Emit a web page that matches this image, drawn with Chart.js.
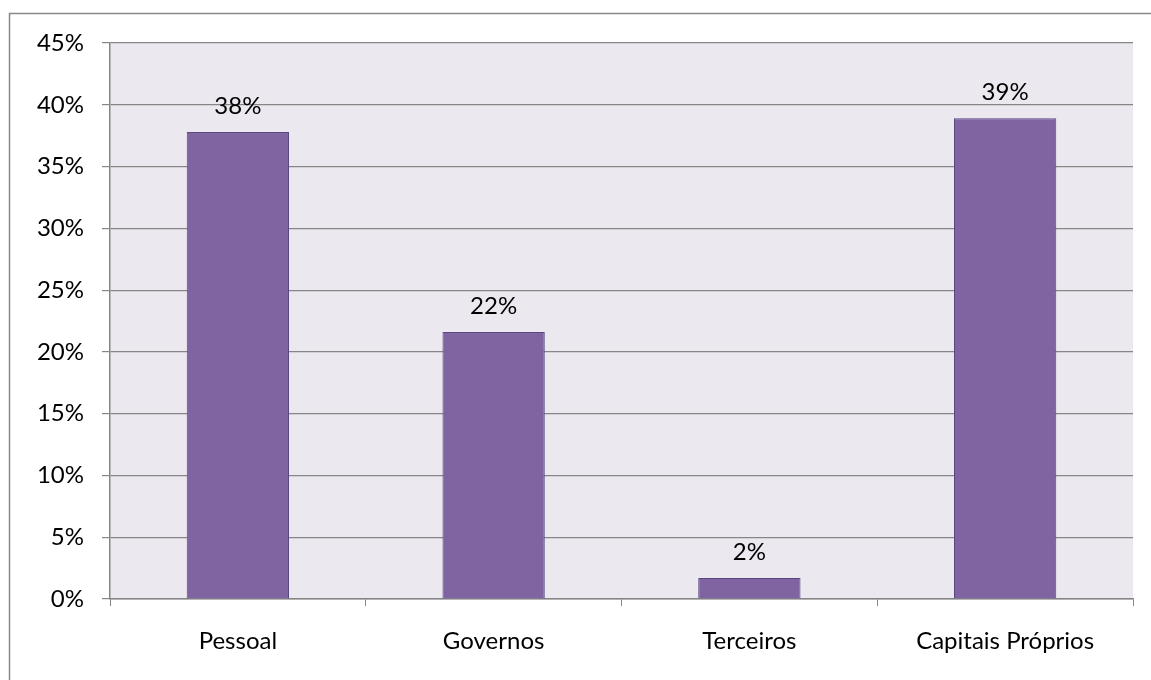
<!DOCTYPE html>
<html>
<head>
<meta charset="utf-8">
<script src="https://cdn.jsdelivr.net/npm/chart.js@4.4.0/dist/chart.umd.min.js"></script>
<style>
html,body{margin:0;padding:0;background:#fff;}
#wrap{position:absolute;left:0;top:0;width:1151px;height:680px;}
</style>
</head>
<body>
<div id="wrap"><canvas id="c" width="1151" height="680"></canvas></div>
<script>
const categories = ["Pessoal", "Governos", "Terceiros", "Capitais Próprios"];
const values = [37.8, 21.6, 1.7, 38.9];
const valueLabels = ["38%", "22%", "2%", "39%"];
const yTicks = [0, 5, 10, 15, 20, 25, 30, 35, 40, 45];

const FONT = "Lato, 'Open Sans', sans-serif";
const FSIZE = 24;

const framePlugin = {
  id: 'frame',
  beforeDraw(chart) {
    const ctx = chart.ctx;
    const a = chart.chartArea;
    ctx.save();
    ctx.fillStyle = '#ffffff';
    ctx.fillRect(0, 0, chart.width, chart.height);
    ctx.strokeStyle = '#898989';
    ctx.lineWidth = 1.5;
    ctx.strokeRect(9.5, 13.5, 1200, 700);
    ctx.fillStyle = '#EBE9EF';
    ctx.fillRect(a.left, a.top, a.right - a.left, a.bottom - a.top);
    ctx.restore();
  },
  afterDatasetsDraw(chart) {
    const ctx = chart.ctx;
    const meta = chart.getDatasetMeta(0);
    ctx.save();
    ctx.font = FSIZE + 'px ' + FONT;
    ctx.fillStyle = '#000';
    ctx.textAlign = 'center';
    ctx.textBaseline = 'middle';
    meta.data.forEach((bar, i) => {
      ctx.fillText(valueLabels[i], bar.x, bar.y - 26);
    });
    ctx.restore();
  }
};

new Chart(document.getElementById('c'), {
  type: 'bar',
  data: {
    labels: categories,
    datasets: [{
      data: values,
      backgroundColor: '#8064A2',
      borderColor: '#5A4680',
      borderWidth: 1,
      categoryPercentage: 1,
      barPercentage: 0.4
    }]
  },
  options: {
    responsive: false,
    animation: false,
    devicePixelRatio: 1,
    layout: { padding: { left: 0, top: 43, right: 18, bottom: 0 } },
    plugins: { legend: { display: false }, tooltip: { enabled: false } },
    scales: {
      x: {
        offset: true,
        grid: { offset: true, drawOnChartArea: false, color: '#868686', tickLength: 7, lineWidth: 1 },
        border: { color: '#868686', width: 1.5 },
        ticks: { color: '#000', font: { family: FONT, size: FSIZE }, padding: 21 },
        afterFit(s) { s.height = 81; }
      },
      y: {
        min: 0, max: 45,
        afterBuildTicks(s) { s.ticks = yTicks.map(v => ({ value: v })); },
        grid: { color: '#868686', tickLength: 8, lineWidth: 1.2 },
        border: { color: '#868686', width: 1.5 },
        ticks: { color: '#000', font: { family: FONT, size: FSIZE }, padding: 18, callback: v => v + '%' },
        afterFit(s) { s.width = 110; }
      }
    }
  },
  plugins: [framePlugin]
});
</script>
</body>
</html>
